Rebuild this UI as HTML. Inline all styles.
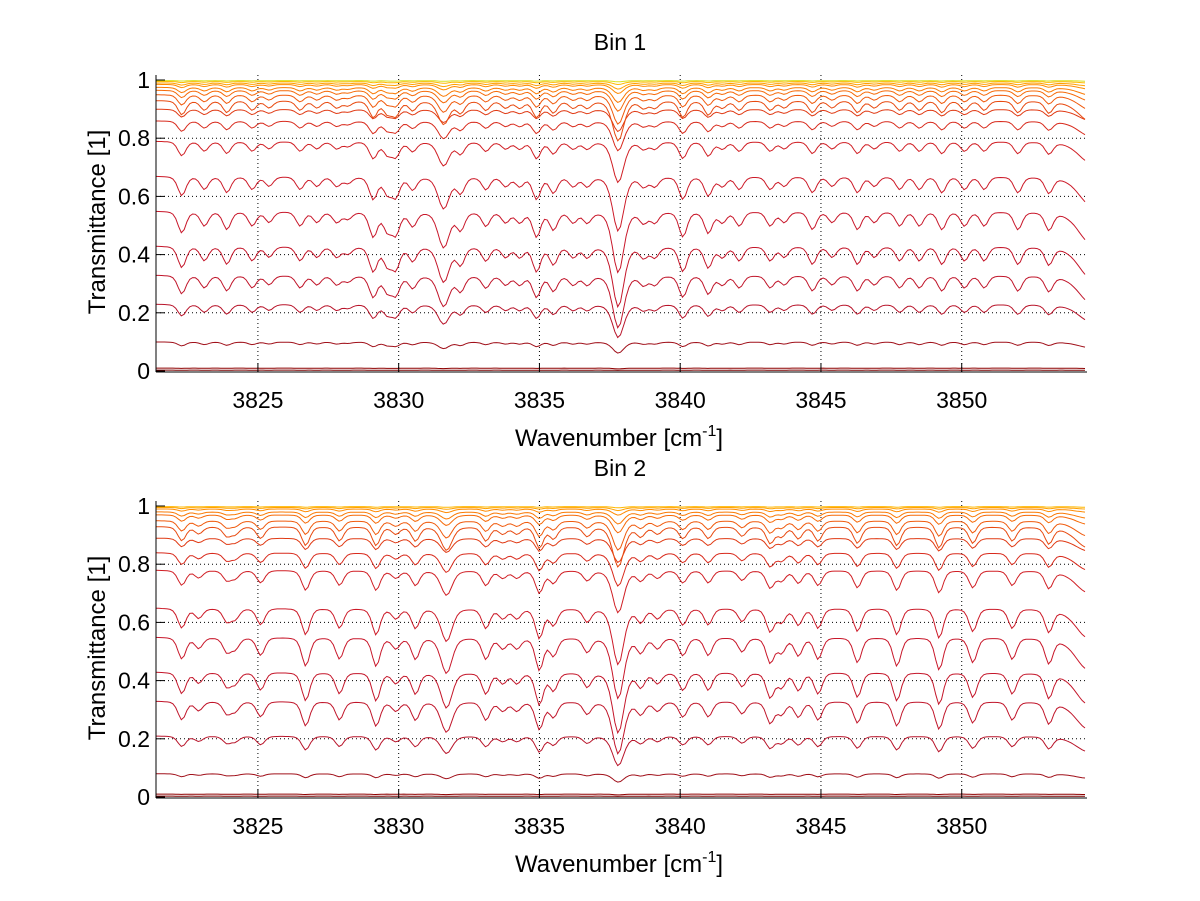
<!DOCTYPE html>
<html><head><meta charset="utf-8"><style>
body{margin:0;background:#fff;}
svg{display:block;font-family:"Liberation Sans",sans-serif;}
</style></head><body>
<svg id="fig" width="1200" height="901" viewBox="0 0 1200 901"></svg>
<script>
const xTicks=[3825,3830,3835,3840,3845,3850];
const yTicks=[0,0.2,0.4,0.6,0.8,1];
const yTickLabels=["0","0.2","0.4","0.6","0.8","1"];
const levelsBin1=[0.003,0.01,0.1,0.23,0.33,0.43,0.55,0.67,0.79,0.86,0.9,0.93,0.95,0.965,0.975,0.985,0.99,0.995,0.998];
const levelsBin2=[0.003,0.01,0.08,0.21,0.33,0.43,0.55,0.65,0.78,0.84,0.89,0.93,0.95,0.97,0.98,0.99,0.995,0.998];
const centersBin1=[3822.3,3823.1,3823.9,3824.8,3825.4,3826.5,3827.1,3827.8,3828.2,3829.1,3829.6,3829.9,3830.5,3831.6,3832.2,3833.1,3833.8,3834.3,3834.9,3835.5,3836.2,3836.7,3837.8,3838.7,3839.1,3840.1,3841.0,3841.5,3842.1,3843.2,3843.7,3844.7,3845.4,3846.3,3846.9,3847.8,3848.5,3849.3,3850.1,3850.8,3852.0,3853.1,3854.6];
const strengthsBin1=[0.3,0.2,0.25,0.2,0.15,0.2,0.15,0.15,0.1,0.35,0.25,0.3,0.2,0.5,0.25,0.2,0.15,0.15,0.35,0.25,0.15,0.15,0.85,0.15,0.15,0.35,0.3,0.15,0.2,0.2,0.15,0.25,0.15,0.25,0.15,0.2,0.2,0.25,0.2,0.2,0.25,0.25,0.45];
const centersBin2=[3822.3,3822.9,3823.9,3824.2,3825.1,3826.7,3827.9,3829.2,3829.9,3830.6,3831.7,3833.1,3833.7,3834.2,3835.0,3835.5,3836.7,3837.8,3838.6,3839.2,3840.1,3841.0,3842.2,3843.2,3843.6,3844.2,3844.9,3846.3,3847.7,3849.2,3850.4,3851.8,3853.1,3854.5];
const strengthsBin2=[0.3,0.15,0.2,0.15,0.25,0.4,0.3,0.4,0.15,0.3,0.5,0.3,0.15,0.15,0.45,0.25,0.2,0.85,0.2,0.15,0.25,0.25,0.2,0.35,0.2,0.25,0.3,0.35,0.4,0.45,0.35,0.3,0.35,0.45];

const NS="http://www.w3.org/2000/svg";
const svg=document.getElementById('fig');
const X0=3821.38,X1=3854.45,PL=156,PR=1087;
function sx(v){return PL+(v-X0)/(X1-X0)*(PR-PL);}
function mk(t,a,p){const e=document.createElementNS(NS,t);for(const k in a)e.setAttribute(k,a[k]);(p||svg).appendChild(e);return e;}
const colors=["#7a0000","#8e0000","#a0101a","#b8142a","#c0152a","#c4162a","#c8172a","#cc1a28","#d01e24","#d82a1c","#e03a14","#e84a10","#f05a0c","#f66a08","#fa7a04","#ff8a00","#ffa000","#ffb800","#d8e020"];
function absorb(x,cs,ss){let a=0;for(let i=0;i<cs.length;i++){const w=(i===cs.length-1)?0.55:(ss[i]>0.45?0.24:0.17);const d=(x-cs[i])/w;a+=ss[i]*(0.6*Math.exp(-d*d*0.7)+0.4/(1+d*d));}return a;}
function panel(name,oy,title,levels,cs,ss){
  const g=mk('g',{});
  const sy=v=>oy+371-v*291;
  xTicks.forEach(t=>{const l=mk('line',{x1:sx(t),x2:sx(t),y1:oy+75,y2:oy+372,stroke:'#000','stroke-width':1,'stroke-dasharray':'1,3'},g);});
  yTicks.slice(1,5).forEach(t=>{const l=mk('line',{x1:PL,x2:PR,y1:sy(t),y2:sy(t),stroke:'#000','stroke-width':1,'stroke-dasharray':'1,3'},g);});
  levels.forEach((L,i)=>{
    let pts=[];
    const f=Math.min(1,0.3+2*L)*(1+(L>0.9?1.5:0));
    for(let x=X0;x<=X1+0.001;x+=0.1){
      const A=absorb(x,cs,ss);
      let T=L-L*(1-L)*Math.min(A,1.2)*f;
      if(T<0)T=0;
      pts.push(sx(x).toFixed(1)+','+sy(T).toFixed(1));
    }
    const p=mk('polyline',{points:pts.join(' '),fill:'none',stroke:colors[Math.min(i,colors.length-1)],'stroke-width':1},g);
    
    
  });
  mk('line',{x1:PL,x2:PL,y1:oy+75,y2:oy+372,stroke:'#000'},g);
  mk('line',{x1:PL,x2:PR,y1:oy+372,y2:oy+372,stroke:'#000'},g);
  xTicks.forEach(t=>{mk('line',{x1:sx(t),x2:sx(t),y1:oy+372,y2:oy+363,stroke:'#000'},g);
    const tx=mk('text',{x:sx(t),y:oy+408,'text-anchor':'middle','font-size':23},g);tx.textContent=t;
    });
  yTicks.forEach((t,i)=>{mk('line',{x1:PL,x2:PL+9,y1:sy(t),y2:sy(t),stroke:'#000'},g);
    const tx=mk('text',{x:150,y:sy(t)+8,'text-anchor':'end','font-size':23},g);tx.textContent=yTickLabels[i];
    });
  const ti=mk('text',{x:620,y:oy+50,'text-anchor':'middle','font-size':23},g);ti.textContent=title;
  
  const yl=mk('text',{x:0,y:0,'text-anchor':'middle','font-size':24,transform:`translate(105,${oy+222}) rotate(-90)`},g);yl.textContent='Transmittance [1]';
  
  const xl=mk('text',{x:619,y:oy+446,'text-anchor':'middle','font-size':24},g);
  
  xl.appendChild(document.createTextNode('Wavenumber [cm'));
  const sup=mk('tspan',{dy:-10,'font-size':16},xl);sup.textContent='-1';
  const cl=mk('tspan',{dy:10},xl);cl.textContent=']';
}
panel('bin1-panel',0,'Bin 1',levelsBin1,centersBin1,strengthsBin1);
panel('bin2-panel',426,'Bin 2',levelsBin2,centersBin2,strengthsBin2);
</script>
</body></html>
